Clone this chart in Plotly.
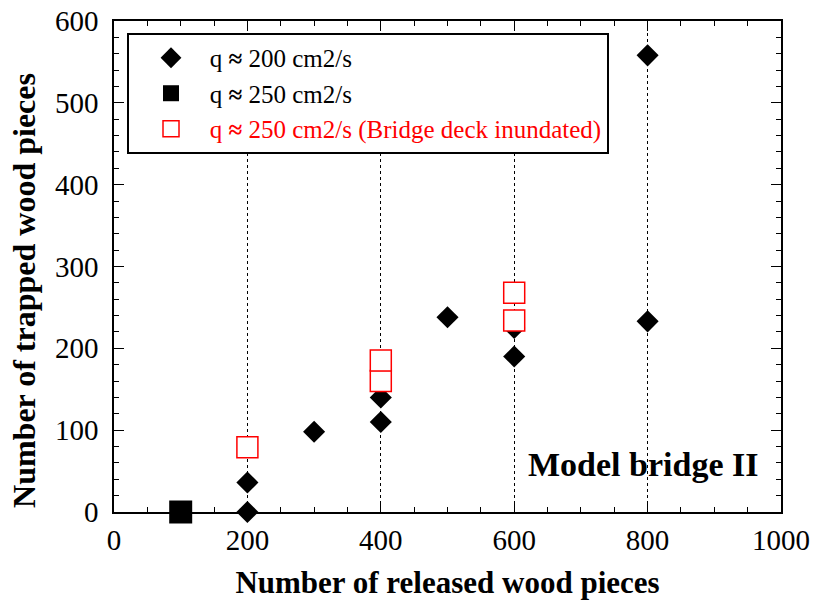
import plotly.graph_objects as go

# q ≈ 200 cm2/s (filled diamonds)
released_200 = [200, 200, 300, 400, 400, 500, 600, 600, 800, 800]
trapped_200 = [0, 36, 98, 110, 140, 238, 190, 225, 233, 558]

# q ≈ 250 cm2/s (filled square)
released_250 = [100]
trapped_250 = [0]

# q ≈ 250 cm2/s, bridge deck inundated (open red squares)
released_inund = [200, 400, 400, 600, 600]
trapped_inund = [79, 160, 185, 234, 268]

NB = "\u00a0"
names = [
    NB * 3 + "q <b>≈</b> 200 cm2/s",
    NB * 3 + "q <b>≈</b> 250 cm2/s",
    NB * 3 + "<span style='color:red'>q <b>≈</b> 250 cm2/s (Bridge deck inundated)</span>",
]

FONT = "Liberation Serif"

fig = go.Figure()
fig.add_trace(go.Scatter(
    x=released_200, y=trapped_200, mode="markers", name=names[0],
    marker=dict(symbol="diamond", size=17, color="black", line=dict(width=0)),
    cliponaxis=False,
))
fig.add_trace(go.Scatter(
    x=released_250, y=trapped_250, mode="markers", name=names[1],
    marker=dict(symbol="square", size=23, color="black", line=dict(width=0)),
    cliponaxis=False,
))
fig.add_trace(go.Scatter(
    x=released_inund, y=trapped_inund, mode="markers", name=names[2],
    marker=dict(symbol="square", size=21, color="white",
                line=dict(width=1.5, color="red")),
    cliponaxis=False,
))

fig.add_annotation(
    x=0.969, y=0.054, xref="paper", yref="paper", xanchor="right", yanchor="bottom",
    text="<b>Model bridge II</b>", showarrow=False,
    font=dict(family=FONT, size=34, color="black"),
)

fig.update_layout(
    width=813, height=600,
    margin=dict(l=114, r=32, t=21, b=88),
    paper_bgcolor="white", plot_bgcolor="white",
    font=dict(family=FONT, color="black"),
    legend=dict(
        x=0.0195, y=0.9756, xanchor="left", yanchor="top",
        bgcolor="white", bordercolor="black", borderwidth=2,
        font=dict(family=FONT, size=25, color="black"),
        tracegroupgap=0, indentation=22,
    ),
    showlegend=True,
)

fig.update_xaxes(
    range=[0, 1000], dtick=200, tick0=0, automargin=False,
    showline=True, linecolor="black", linewidth=1.5, mirror="ticks",
    ticks="inside", ticklen=10, tickwidth=1, tickcolor="black",
    minor=dict(dtick=50, ticks="inside", ticklen=5, tickcolor="black", showgrid=False),
    showgrid=True, gridcolor="black", gridwidth=1, griddash="dot",
    zeroline=False, ticklabelstandoff=1, ticklabeloverflow="allow",
    tickfont=dict(family=FONT, size=29),
    title=dict(text="<b>Number of released wood pieces</b>",
               font=dict(family=FONT, size=31), standoff=20),
)
fig.update_yaxes(
    range=[0, 600], dtick=100, tick0=0, automargin=False,
    showline=True, linecolor="black", linewidth=1.5, mirror="ticks",
    ticks="inside", ticklen=10, tickwidth=1, tickcolor="black",
    minor=dict(dtick=20, ticks="inside", ticklen=5, tickcolor="black", showgrid=False),
    showgrid=False, zeroline=False, ticklabelstandoff=8, ticklabeloverflow="allow",
    tickfont=dict(family=FONT, size=29),
    title=dict(text="<b>Number of trapped wood pieces" + NB * 6 + "</b>",
               font=dict(family=FONT, size=32), standoff=10),
)

# remove the default page margin so the 813x600 figure fills the window exactly
fig.write_html("out.html", config={"displayModeBar": False},
               post_script="document.body.style.margin='0';")
